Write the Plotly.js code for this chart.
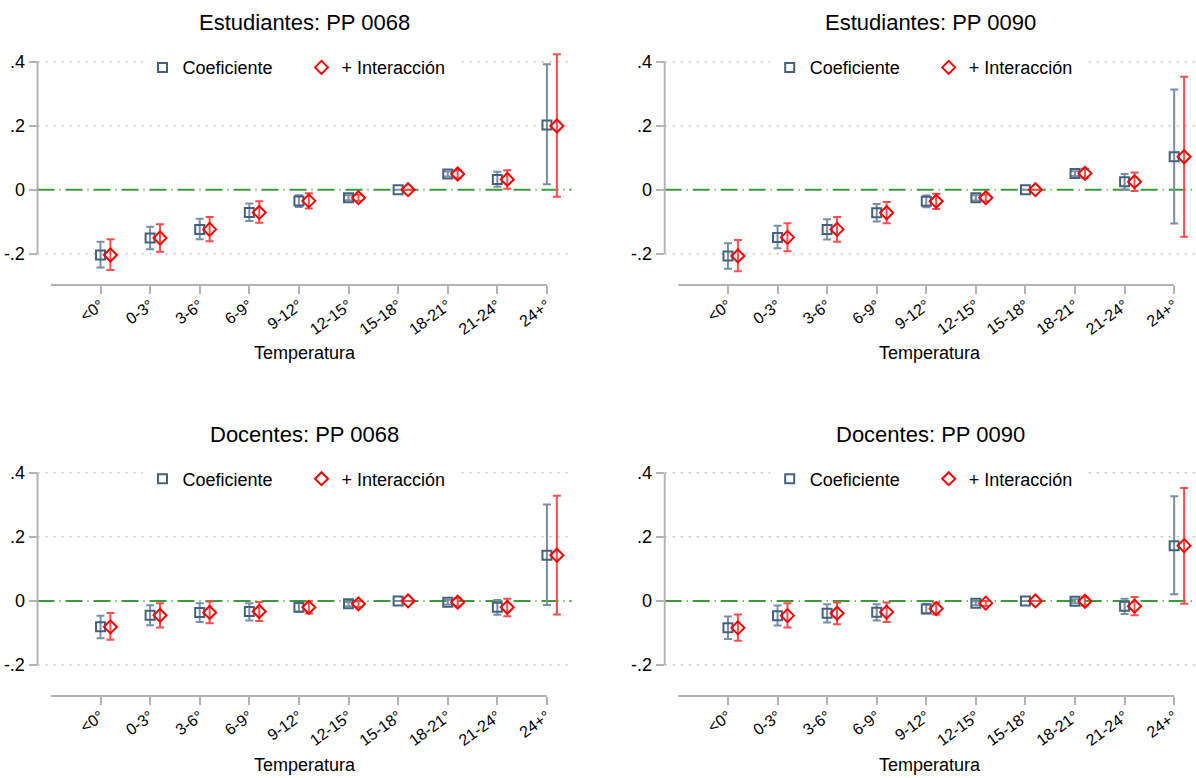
<!DOCTYPE html>
<html>
<head>
<meta charset="utf-8">
<script src="https://cdn.plot.ly/plotly-3.0.1.min.js"></script>
<style>
  html, body { margin: 0; padding: 0; background: #ffffff; }
  #chart { width: 1196px; height: 778px; }
</style>
</head>
<body>
<div id="chart"></div>
<script>
// Temperature bins (x axis categories)
const categories = ["<0°", "0-3°", "3-6°", "6-9°", "9-12°", "12-15°", "15-18°", "18-21°", "21-24°", "24+°"];

// y tick labels
const yTickVals = [0.4, 0.2, 0, -0.2];
const yTickText = [".4", ".2", "0", "-.2"];

// Panel titles
const panelTitles = ["Estudiantes: PP 0068", "Estudiantes: PP 0090", "Docentes: PP 0068", "Docentes: PP 0090"];
const seriesNames = ["Coeficiente", "+ Interacción"];

// Estudiantes: PP 0068
const est68Coef    = [-0.204, -0.151, -0.124, -0.071, -0.035, -0.025, 0, 0.049, 0.032, 0.202];
const est68CoefLo  = [-0.243, -0.186, -0.155, -0.098, -0.054, -0.033, 0, 0.041, 0.009, 0.017];
const est68CoefHi  = [-0.1625, -0.116, -0.091, -0.043, -0.017, -0.017, 0, 0.057, 0.056, 0.392];
const est68Inter   = [-0.204, -0.151, -0.124, -0.071, -0.035, -0.025, 0, 0.049, 0.032, 0.199];
const est68InterLo = [-0.251, -0.194, -0.161, -0.103, -0.059, -0.035, 0, 0.036, 0.003, -0.022];
const est68InterHi = [-0.155, -0.108, -0.085, -0.036, -0.011, -0.016, 0, 0.061, 0.061, 0.423];

// Estudiantes: PP 0090
const est90Coef    = [-0.207, -0.149, -0.124, -0.072, -0.036, -0.025, 0, 0.051, 0.025, 0.103];
const est90CoefLo  = [-0.247, -0.183, -0.156, -0.099, -0.055, -0.034, 0, 0.043, 0.001, -0.106];
const est90CoefHi  = [-0.167, -0.1125, -0.092, -0.045, -0.018, -0.017, 0, 0.058, 0.049, 0.3135];
const est90Inter   = [-0.207, -0.149, -0.124, -0.072, -0.036, -0.025, 0, 0.051, 0.025, 0.103];
const est90InterLo = [-0.255, -0.192, -0.1625, -0.105, -0.060, -0.036, 0, 0.0375, -0.004, -0.147];
const est90InterHi = [-0.157, -0.105, -0.085, -0.0385, -0.0125, -0.015, 0, 0.065, 0.054, 0.353];

// Docentes: PP 0068
const doc68Coef    = [-0.081, -0.045, -0.036, -0.033, -0.020, -0.009, 0, -0.004, -0.020, 0.1425];
const doc68CoefLo  = [-0.1165, -0.076, -0.0655, -0.061, -0.034, -0.017, 0, -0.011, -0.043, -0.0125];
const doc68CoefHi  = [-0.046, -0.0135, -0.007, -0.007, -0.007, -0.003, 0, 0.003, 0.003, 0.3005];
const doc68Inter   = [-0.081, -0.045, -0.036, -0.033, -0.020, -0.009, 0, -0.004, -0.020, 0.1425];
const doc68InterLo = [-0.121, -0.083, -0.070, -0.063, -0.0395, -0.019, 0, -0.017, -0.048, -0.0425];
const doc68InterHi = [-0.038, -0.007, -0.002, -0.003, -0.001, -0.001, 0, 0.008, 0.007, 0.3285];

// Docentes: PP 0090
const doc90Coef    = [-0.084, -0.046, -0.0385, -0.035, -0.025, -0.007, 0, -0.001, -0.0165, 0.1725];
const doc90CoefLo  = [-0.1185, -0.077, -0.0675, -0.061, -0.0385, -0.0135, 0, -0.007, -0.0405, 0.021];
const doc90CoefHi  = [-0.049, -0.0145, -0.0105, -0.0105, -0.009, -0.002, 0, 0.005, 0.007, 0.3265];
const doc90Inter   = [-0.084, -0.046, -0.0385, -0.035, -0.024, -0.007, 0, -0.001, -0.0165, 0.1725];
const doc90InterLo = [-0.124, -0.083, -0.073, -0.0655, -0.0425, -0.0155, 0, -0.0145, -0.045, -0.009];
const doc90InterHi = [-0.0425, -0.007, -0.005, -0.005, -0.005, 0, 0, 0.0115, 0.0125, 0.3525];

const panels = [
  { coef: est68Coef, coefLo: est68CoefLo, coefHi: est68CoefHi, inter: est68Inter, interLo: est68InterLo, interHi: est68InterHi },
  { coef: est90Coef, coefLo: est90CoefLo, coefHi: est90CoefHi, inter: est90Inter, interLo: est90InterLo, interHi: est90InterHi },
  { coef: doc68Coef, coefLo: doc68CoefLo, coefHi: doc68CoefHi, inter: doc68Inter, interLo: doc68InterLo, interHi: doc68InterHi },
  { coef: doc90Coef, coefLo: doc90CoefLo, coefHi: doc90CoefHi, inter: doc90Inter, interLo: doc90InterLo, interHi: doc90InterHi }
];

// ---- styling ----
const W = 1196, H = 778;
const FONT = "Liberation Sans, Arial, Helvetica, sans-serif";
const COEF_MARKER = "#44627f";
const COEF_BAR = "#7690a8";
const INTER_MARKER = "#ff0000";
const INTER_BAR = "#ff4d4d";
const AXIS_GRAY = "#b3b3b3";
const GRID_GRAY = "#c4c4c4";
const ZERO_GREEN = "#3a9b3a";
const DODGE = 0.2;   // horizontal shift of the interaction estimate

// layout geometry in pixels
const colX = [[37.5, 571.5], [664.7, 1196]];
const colRange = [[-1.27, 9.495], [-1.276, 9.44]];
const rowY = [[40, 285], [451, 696]];           // [top, bottom] in px from top
const rowRange = [[-0.2978, 0.4678], [-0.2967, 0.4678]];
const titleY = [22.7, 434.3];
const legendY = [67.7, 479];
const axisTitleY = [353, 765];

const px2x = p => p / W;
const px2y = p => (H - p) / H;

const traces = [];
const layout = {
  width: W, height: H,
  margin: { l: 0, r: 0, t: 0, b: 0 },
  paper_bgcolor: "#ffffff",
  plot_bgcolor: "rgba(0,0,0,0)",
  font: { family: FONT, color: "#000000", size: 17 },
  showlegend: true,
  annotations: [],
  shapes: []
};

const idx = categories.map((_, i) => i);

panels.forEach((p, k) => {
  const row = Math.floor(k / 2), col = k % 2;
  const n = k + 1;
  const xa = n === 1 ? "x" : "x" + n;
  const ya = n === 1 ? "y" : "y" + n;
  const xKey = n === 1 ? "xaxis" : "xaxis" + n;
  const yKey = n === 1 ? "yaxis" : "yaxis" + n;
  const legKey = n === 1 ? "legend" : "legend" + n;
  const xMid = (colX[col][0] + colX[col][1]) / 2;

  layout[xKey] = {
    domain: [px2x(colX[col][0]), px2x(colX[col][1])],
    range: colRange[col],
    anchor: ya,
    tickmode: "array",
    tickvals: idx,
    ticktext: categories,
    tickangle: -36,
    ticks: "outside",
    ticklen: 8,
    tickwidth: 2,
    tickcolor: AXIS_GRAY,
    ticklabelstandoff: -4,
    tickfont: { family: FONT, size: 16, color: "#000000" },
    showgrid: false,
    zeroline: false,
    showline: false,
    fixedrange: true
  };
  layout[yKey] = {
    domain: [px2y(rowY[row][1]), px2y(rowY[row][0])],
    range: rowRange[row],
    anchor: xa,
    tickmode: "array",
    tickvals: yTickVals,
    ticktext: yTickText,
    ticks: "outside",
    ticklen: 8,
    tickwidth: 2,
    tickcolor: AXIS_GRAY,
    tickfont: { family: FONT, size: 18, color: "#000000" },
    showgrid: false,
    zeroline: false,
    showline: false,
    fixedrange: true
  };

  // panel title
  layout.annotations.push({
    text: panelTitles[k],
    xref: "paper", yref: "paper",
    x: px2x(xMid), y: px2y(titleY[row]),
    xanchor: "center", yanchor: "middle",
    showarrow: false,
    font: { family: FONT, size: 22, color: "#000000" }
  });
  // x axis title
  layout.annotations.push({
    text: "Temperatura",
    xref: "paper", yref: "paper",
    x: px2x(xMid), y: px2y(axisTitleY[row]),
    xanchor: "center", yanchor: "middle",
    showarrow: false,
    font: { family: FONT, size: 18, color: "#000000" }
  });

  // legend inside the plot area
  layout[legKey] = {
    orientation: "h",
    xref: "paper", yref: "paper",
    x: px2x(colX[col][0] + 105),
    y: px2y(legendY[row]),
    xanchor: "left", yanchor: "middle",
    bgcolor: "#ffffff",
    borderwidth: 0,
    entrywidth: 114,
    font: { family: FONT, size: 18, color: "#000000" },
    itemclick: false, itemdoubleclick: false
  };

  // dotted horizontal grid at the labelled values (zero carries the reference line)
  yTickVals.filter(v => v !== 0).forEach(v => {
    layout.shapes.push({
      type: "line", xref: xa + " domain", yref: ya,
      x0: 0, x1: 1, y0: v, y1: v,
      line: { color: GRID_GRAY, width: 1.5, dash: "2px,6px" }, layer: "below"
    });
  });
  // reference line at zero
  layout.shapes.push({
    type: "line", xref: xa + " domain", yref: ya,
    x0: 0, x1: 1, y0: 0, y1: 0,
    line: { color: ZERO_GREEN, width: 2, dash: "17px,5px,1px,5px" }, layer: "below"
  });
  // axis lines (y spans the labelled ticks, x spans from one step left of the first bin to the last bin)
  layout.shapes.push({
    type: "line", xref: xa + " domain", yref: ya,
    x0: 0, x1: 0, y0: yTickVals[yTickVals.length - 1], y1: yTickVals[0],
    line: { color: AXIS_GRAY, width: 2 }, layer: "below"
  });
  layout.shapes.push({
    type: "line", xref: xa, yref: ya + " domain",
    x0: idx[0] - 1, x1: idx[idx.length - 1], y0: 0, y1: 0,
    line: { color: AXIS_GRAY, width: 2 }, layer: "below"
  });

  const errUp = (v, hi) => hi.map((h, i) => h - v[i]);
  const errDn = (v, lo) => lo.map((l, i) => v[i] - l);

  traces.push({
    type: "scatter", mode: "markers",
    name: seriesNames[0],
    x: idx, y: p.coef,
    xaxis: xa, yaxis: ya, legend: legKey,
    marker: { symbol: "square-open", size: 9, color: COEF_MARKER, line: { width: 2, color: COEF_MARKER } },
    error_y: { type: "data", symmetric: false, array: errUp(p.coef, p.coefHi), arrayminus: errDn(p.coef, p.coefLo),
               color: COEF_BAR, thickness: 2, width: 4 },
    hoverinfo: "skip"
  });
  traces.push({
    type: "scatter", mode: "markers",
    name: seriesNames[1],
    x: idx.map(i => i + DODGE), y: p.inter,
    xaxis: xa, yaxis: ya, legend: legKey,
    marker: { symbol: "diamond-open", size: 10, color: INTER_MARKER, line: { width: 2, color: INTER_MARKER } },
    error_y: { type: "data", symmetric: false, array: errUp(p.inter, p.interHi), arrayminus: errDn(p.inter, p.interLo),
               color: INTER_BAR, thickness: 2, width: 4 },
    hoverinfo: "skip"
  });
});

Plotly.newPlot("chart", traces, layout, { displayModeBar: false, staticPlot: true });
</script>
</body>
</html>
